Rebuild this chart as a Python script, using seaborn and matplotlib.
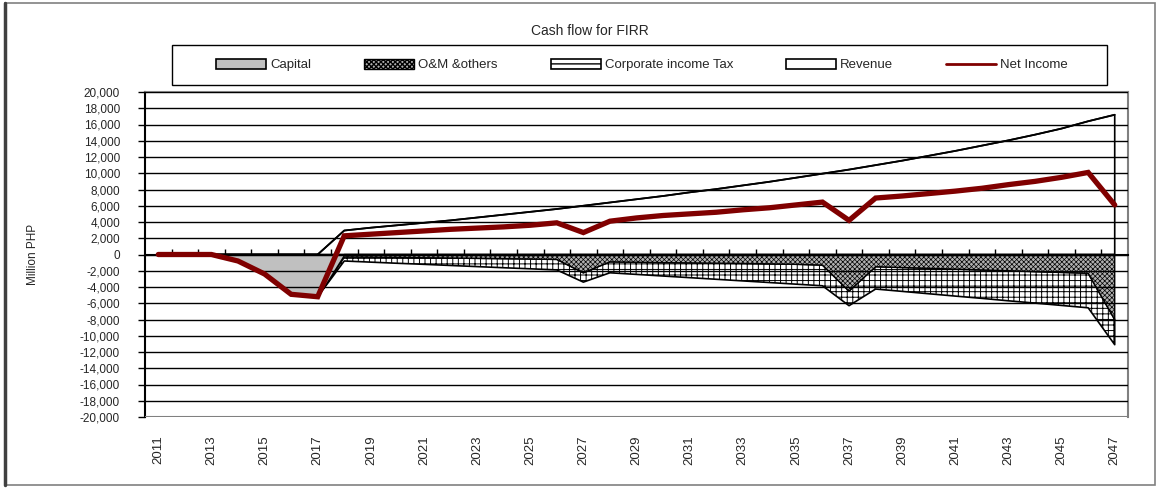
import numpy as np
import pandas as pd
import matplotlib.pyplot as plt
import seaborn as sns
from matplotlib.patches import Rectangle, Patch
from matplotlib.lines import Line2D
from matplotlib.ticker import FixedLocator, FuncFormatter

# Data (Million PHP)
years = list(range(2011, 2048))
capital = [0, 0, 0, 800, 2400, 4900, 5200,
           0, 0, 0, 0, 0, 0, 0, 0, 0, 0, 0, 0, 0, 0, 0, 0, 0, 0, 0,
           0, 0, 0, 0, 0, 0, 0, 0, 0, 0, 0]
om_others = [0, 0, 0, 0, 0, 0, 0,
             300, 330, 360, 400, 430, 470, 510, 550, 600, 2250,
             900, 950, 1000, 1030, 1070, 1100, 1150, 1200, 1300, 4500,
             1500, 1600, 1700, 1800, 1900, 2000, 2100, 2200, 2300, 8000]
corp_tax = [0, 0, 0, 0, 0, 0, 0,
            500, 610, 720, 810, 920, 1020, 1120, 1210, 1300, 1150,
            1350, 1500, 1650, 1820, 1980, 2150, 2300, 2450, 2550, 1800,
            2750, 2940, 3130, 3320, 3500, 3700, 3880, 4070, 4260, 3100]
revenue = [0, 0, 0, 0, 0, 0, 0,
           2950, 3300, 3600, 3900, 4200, 4550, 4900, 5250, 5600, 6000,
           6400, 6800, 7200, 7650, 8050, 8500, 8950, 9450, 9950, 10450,
           11000, 11550, 12150, 12750, 13400, 14050, 14750, 15500, 16400, 17200]
net_income = [0, 0, 0, -800, -2400, -4900, -5200,
              2300, 2500, 2700, 2900, 3100, 3250, 3400, 3600, 3900, 2700,
              4100, 4500, 4800, 5000, 5200, 5500, 5750, 6100, 6450, 4200,
              6950, 7200, 7500, 7800, 8150, 8600, 9000, 9500, 10100, 6100]

df = pd.DataFrame({'year': years, 'capital': capital, 'om': om_others,
                   'tax': corp_tax, 'revenue': revenue, 'net': net_income})
df['cap_bot'] = -df['capital']
df['om_bot'] = df['cap_bot'] - df['om']
df['tax_bot'] = df['om_bot'] - df['tax']

sns.set_theme(style='white')
plt.rcParams['font.family'] = ['Liberation Sans', 'DejaVu Sans']

fig = plt.figure(figsize=(11.61, 4.88), dpi=100)
ax = fig.add_axes([145/1161, 1 - 417/488, (1128 - 145)/1161, (417 - 92)/488])

# areas
ax.fill_between(df['year'], 0, df['revenue'], facecolor='none', edgecolor='black', lw=1.2, zorder=1)
ax.fill_between(df['year'], 0, df['cap_bot'], facecolor='#c0c0c0', edgecolor='none', zorder=1.2)
with plt.rc_context({'hatch.linewidth': 0.7, 'hatch.color': 'black'}):
    ax.fill_between(df['year'], df['om_bot'], df['tax_bot'], facecolor='white',
                    hatch='+++', edgecolor='black', lw=1.2, zorder=1.1)
with plt.rc_context({'hatch.linewidth': 0.5, 'hatch.color': 'black'}):
    ax.fill_between(df['year'], df['cap_bot'], df['om_bot'], facecolor='#b0b0b0',
                    hatch='xxxxxxx', edgecolor='black', lw=1.0, zorder=1.15)

sns.lineplot(x='year', y='revenue', data=df, color='black', lw=1.3, ax=ax, zorder=3)
sns.lineplot(x='year', y='net', data=df, color='#800000', lw=3.8, ax=ax, zorder=4,
             solid_capstyle='round', solid_joinstyle='miter')

# y axis
ax.set_ylim(-20000, 20000)
ax.set_yticks(np.arange(-20000, 20001, 2000))
ax.yaxis.set_major_formatter(FuncFormatter(lambda v, p: f'{int(v):,}'))
ax.tick_params(axis='y', which='major', left=True, direction='out', length=5,
               width=1, color='black', labelsize=8.5, pad=13)
ax.grid(axis='y', color='black', lw=1.0)
ax.set_axisbelow(False)
ax.set_ylabel('Million PHP', fontsize=8.5, labelpad=29)

# x axis sits on zero, ticks between categories
ax.set_xlim(2010.5, 2047.5)
ax.spines['bottom'].set_position(('data', 0))
ax.spines['bottom'].set_color('black')
ax.spines['bottom'].set_linewidth(1.5)
ax.set_xticks([])
ax.xaxis.set_minor_locator(FixedLocator(np.arange(2011.5, 2047.5, 1)))
ax.tick_params(axis='x', which='minor', bottom=True, direction='in', length=4,
               width=1, color='black')
ax.set_xlabel('')
ax.spines['left'].set_color('black')
ax.spines['left'].set_linewidth(1.5)
for s in ['top', 'right']:
    ax.spines[s].set_color('#808080')
    ax.spines[s].set_linewidth(1.5)
ax.axhline(-20000, color='#808080', lw=1.5, zorder=2.6)

sec = ax.secondary_xaxis('bottom')
sec.set_xticks(years[::2])
sec.set_xticklabels([str(y) for y in years[::2]], rotation=90, fontsize=9.5)
sec.tick_params(length=0, pad=13)
sec.spines['bottom'].set_visible(False)

fig.text(0.508, 0.937, 'Cash flow for FIRR', ha='center', va='center', fontsize=10)

# legend box
fig.add_artist(Rectangle((172/1161, 1 - 85/488), (1107 - 172)/1161, 40/488,
                         transform=fig.transFigure, fill=False, edgecolor='black', lw=1))
handles = [
    Patch(facecolor='#c0c0c0', edgecolor='black', lw=1.2, label='Capital'),
    Patch(facecolor='#b0b0b0', edgecolor='black', hatch='xxxxxxx', lw=1.0, label='O&M &others'),
    Patch(facecolor='white', edgecolor='black', hatch='---', lw=1.2, label='Corporate income Tax'),
    Patch(facecolor='white', edgecolor='black', lw=1.2, label='Revenue'),
    Line2D([], [], color='#800000', lw=2, label='Net Income'),
]
leg = fig.legend(handles=handles, loc='center', ncol=5, fontsize=9.5,
                 bbox_to_anchor=(642/1161, 1 - 65/488), frameon=False,
                 handlelength=3.8, handleheight=0.8, handletextpad=0.3, columnspacing=4.0)

# outer chart frame
fig.add_artist(Rectangle((5/1161, 3/488), 1150/1161, 482/488, transform=fig.transFigure,
                         fill=False, edgecolor='#808080', lw=1.2))
fig.add_artist(Line2D([5/1161, 5/1161], [3/488, 485/488], transform=fig.transFigure,
                      color='#404040', lw=2.5))

fig.savefig('out.png', dpi=100)
